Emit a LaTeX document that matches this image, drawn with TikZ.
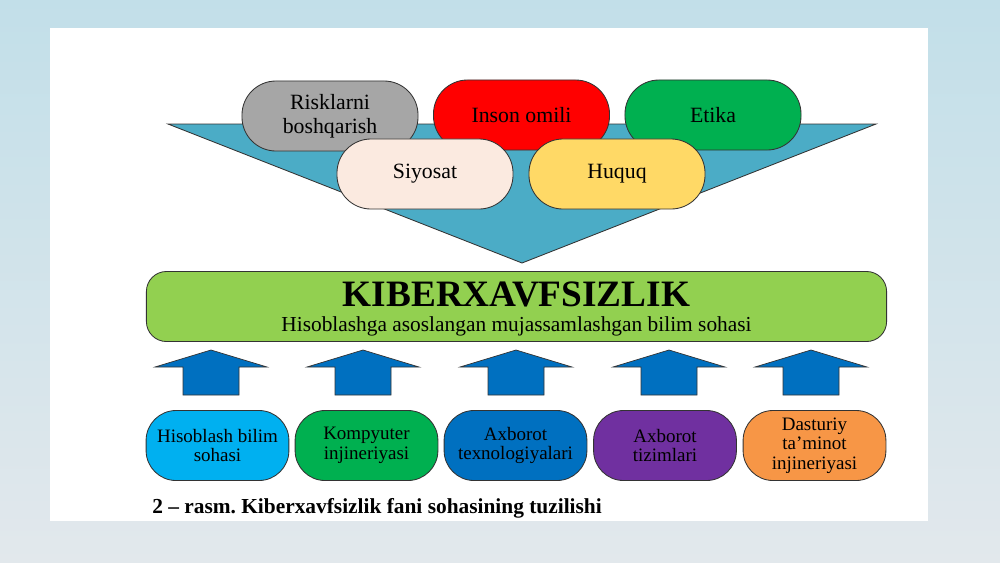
\documentclass[tikz,border=0pt]{standalone}
\usepackage{fontspec}
\setmainfont{Liberation Serif}
\usepackage{tikz}
\usetikzlibrary{positioning, arrows.meta}
\definecolor{bgtop}{HTML}{C2DFE9}
\definecolor{bgbottom}{HTML}{E2E8EC}
\definecolor{funnelblue}{HTML}{4BACC6}
\definecolor{riskgray}{HTML}{A6A6A6}
\definecolor{insonred}{HTML}{FF0000}
\definecolor{etikagreen}{HTML}{00B050}
\definecolor{siyosatbeige}{HTML}{FBEAE0}
\definecolor{huquqyellow}{HTML}{FFD966}
\definecolor{kibergreen}{HTML}{92D050}
\definecolor{arrowblue}{HTML}{0070C0}
\definecolor{hisoblashcyan}{HTML}{00B0F0}
\definecolor{axborotpurple}{HTML}{7030A0}
\definecolor{dasturiyorange}{HTML}{F79646}
\tikzset{
  pill/.style={draw=black!80, line width=0.6pt, rounded corners=0.85cm,
    minimum width=4.4cm, minimum height=1.75cm, align=center,
    font=\fontsize{15.5}{17}\selectfont},
  basebox/.style={draw=black!80, line width=0.6pt, rounded corners=0.75cm,
    minimum width=3.57cm, minimum height=1.75cm, align=center,
    font=\fontsize{13.5}{13.8}\selectfont},
  uparrow/.style={draw=black!80, line width=0.5pt, fill=arrowblue}
}
\begin{document}
\begin{tikzpicture}[x=0.025cm, y=-0.025cm]
  \useasboundingbox (0,0) rectangle (1000,562);
  \shade[top color=bgtop, bottom color=bgbottom] (0,0) rectangle (1000,562);
  \fill[white] (50,28) rectangle (928,521);

  % funnel with the five neighbouring fields
  \draw[draw=black!80, line width=0.6pt, fill=funnelblue]
    (168,124) -- (876,124) -- (522,263) -- cycle;
  \node[pill, fill=riskgray] (risk) at (330,116) {Risklarni\\boshqarish};
  \node[pill, fill=insonred] (inson) at (521.5,115) {Inson omili};
  \node[pill, fill=etikagreen] (etika) at (713,115) {Etika};
  \node[pill, fill=siyosatbeige] (siyosat) at (425,174) {Siyosat};
  \node[pill, fill=huquqyellow] (huquq) at (617,174) {Huquq};

  % main bar
  \node[draw=black!80, line width=0.6pt, fill=kibergreen, rounded corners=0.5cm,
        minimum width=18.5cm, minimum height=1.75cm] (kiber) at (516.5,306.5) {};
  \node[inner sep=0pt, align=center, font=\fontsize{15.2}{17.5}\selectfont] (kibertext)
    at (516.5,309) {{\fontsize{26.5}{17.5}\selectfont\bfseries KIBERXAVFSIZLIK}\\
    Hisoblashga asoslangan mujassamlashgan bilim sohasi};

  % block arrows
  \foreach \x in {211,363,516,669,811}
    \draw[uparrow] ({\x-56},367) -- (\x,350) -- ({\x+56},367) -- ({\x+28},367)
      -- ({\x+28},395) -- ({\x-28},395) -- ({\x-28},367) -- cycle;

  % computing disciplines
  \node[basebox, fill=hisoblashcyan] (hisoblash) at (217.5,445.5) {Hisoblash bilim\\sohasi};
  \node[basebox, fill=etikagreen] (kompyuter) at (366.5,445.5) {Kompyuter\\injineriyasi};
  \node[basebox, fill=arrowblue] (axtex) at (515.5,445.5) {Axborot\\texnologiyalari};
  \node[basebox, fill=axborotpurple] (axtiz) at (665,445.5) {Axborot\\tizimlari};
  \node[basebox, fill=dasturiyorange] (dasturiy) at (814.5,445.5) {Dasturiy\\ta’minot\\injineriyasi};

  \node[anchor=west, inner sep=0pt, font=\fontsize{15.2}{17}\selectfont\bfseries]
    (caption) at (152,508) {2 -- rasm.\ Kiberxavfsizlik fani sohasining tuzilishi};
\end{tikzpicture}
\end{document}
